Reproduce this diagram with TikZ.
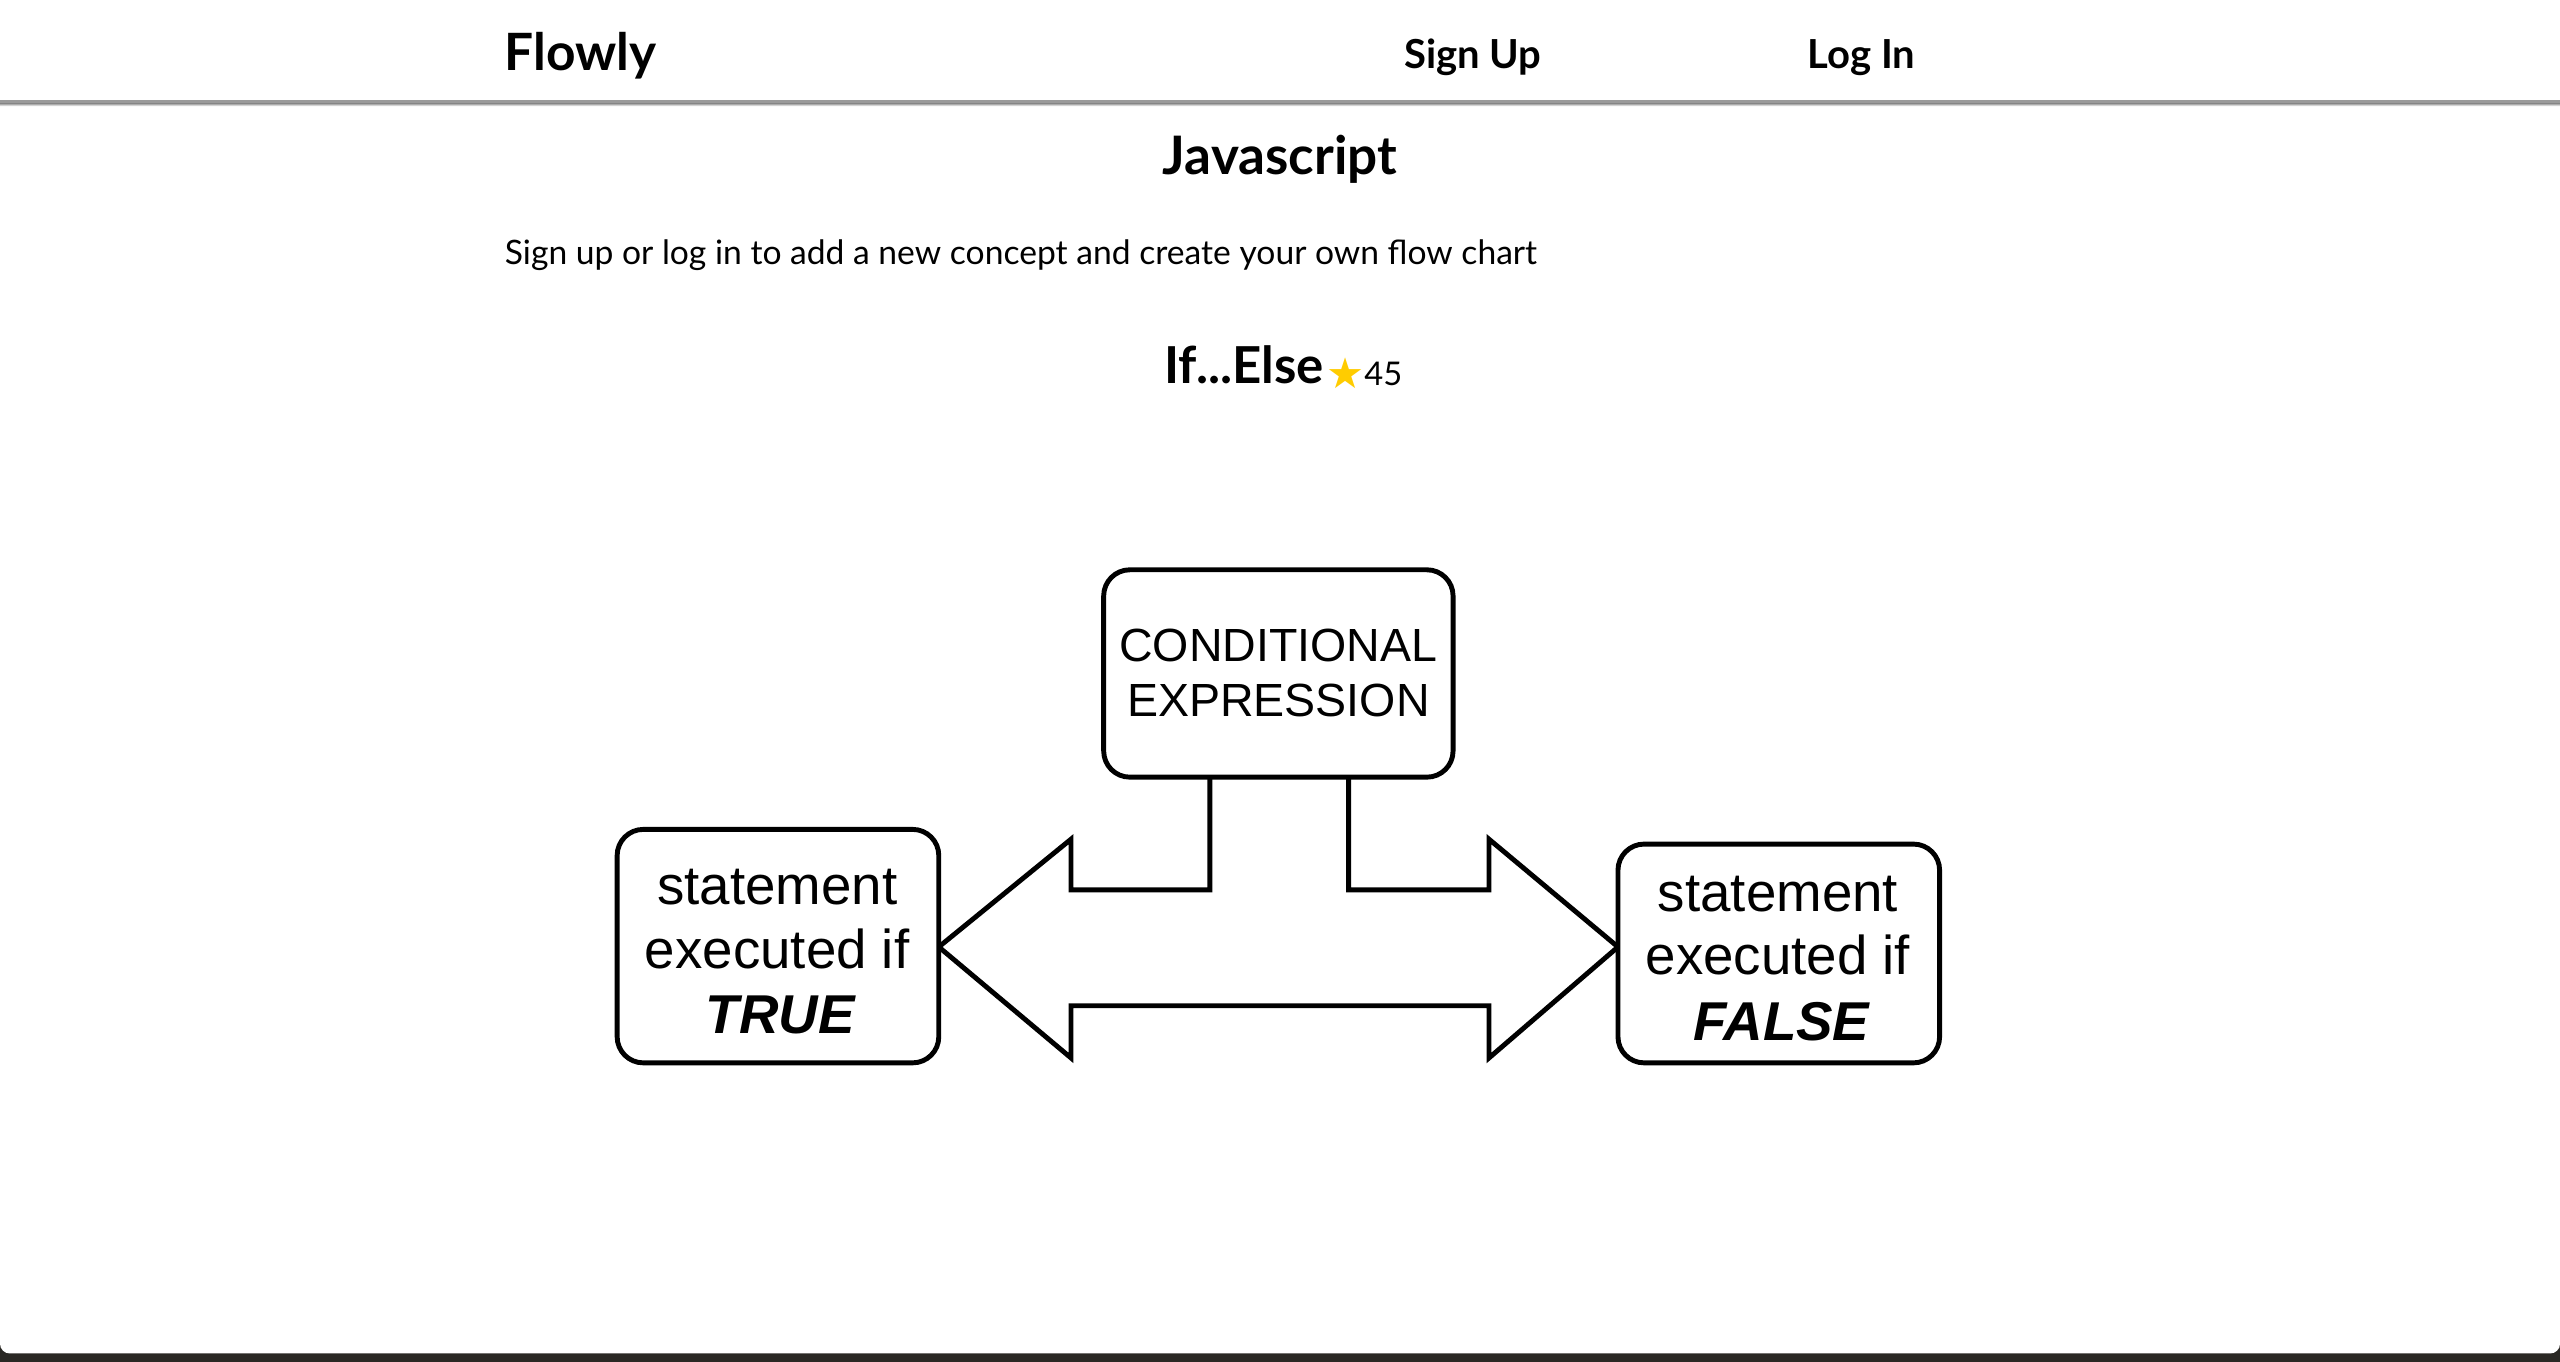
\documentclass[tikz,border=0pt]{standalone}
\usepackage{fontspec}
\setmainfont{Lato}
\newfontfamily\diafont{Liberation Sans}
\newfontfamily\symfont{DejaVu Sans}
\definecolor{gold}{HTML}{FFCC00}
\definecolor{hdrline}{HTML}{9A9A9A}
\definecolor{shade}{HTML}{EDEDED}
\definecolor{bgdark}{HTML}{2A2824}
\tikzset{
  webtxt/.style={inner sep=0pt, text=black},
  dbox/.style={draw=black, line width=3pt, rounded corners=16pt, fill=white},
  dtxt/.style={inner sep=0pt, anchor=base, font=\diafont\fontsize{33.5}{39}\selectfont},
  ctxt/.style={inner sep=0pt, anchor=base, font=\diafont\fontsize{28.5}{34}\selectfont},
  arrowline/.style={draw=black, line width=3pt, line join=miter, fill=white}
}
\begin{document}
\begin{tikzpicture}[x=1pt,y=-1pt]
\useasboundingbox (0,0) rectangle (1568,834);
% background
\fill[bgdark] (0,0) rectangle (1568,834);
\fill[white, rounded corners=6pt] (0,-20) rectangle (1568,829);
% header
\fill[white] (0,0) rectangle (1568,61);
\fill[shade] (0,63) rectangle (1568,65);
\draw[hdrline, line width=2pt] (0,62) -- (1568,62);
\node[webtxt, anchor=base west, font=\bfseries\fontsize{31.5}{36}\selectfont] (logo) at (309,43) {Flowly};
\node[webtxt, anchor=base west, font=\bfseries\fontsize{24.5}{28}\selectfont] (signup) at (860,42) {Sign Up};
\node[webtxt, anchor=base west, font=\bfseries\fontsize{24.5}{28}\selectfont] (login) at (1107,42) {Log In};
% page titles
\node[webtxt, anchor=base, font=\bfseries\fontsize{32.5}{36}\selectfont] (title) at (784,107) {Javascript};
\node[webtxt, anchor=base west, font=\fontsize{20.6}{24}\selectfont] (intro) at (309,162) {Sign up or log in to add a new concept and create your own flow chart};
\node[webtxt, anchor=base west, font=\bfseries\fontsize{31.2}{34}\selectfont] (ifelse) at (713,235) {If...Else};
\node[webtxt, anchor=base west, text=gold, font=\symfont\fontsize{26}{30}\selectfont] (star) at (812,238) {★};
\node[webtxt, anchor=base west, font=\fontsize{20}{24}\selectfont] (count) at (835.5,236) {45};
% diagram: double arrow
\draw[arrowline] (741,476) -- (741,545) -- (656,545) -- (656,514) -- (575,580) -- (656,648) -- (656,616)
  -- (912,616) -- (912,648) -- (991,580) -- (912,514) -- (912,545) -- (826,545) -- (826,476);
% boxes
\draw[dbox] (676,349) rectangle (890,476);
\node[ctxt] (c1) at (783,405) {CONDITIONAL};
\node[ctxt] (c2) at (783,439) {EXPRESSION};
\draw[dbox] (378,508) rectangle (575,651);
\node[dtxt] (t1) at (476,554) {statement};
\node[dtxt] (t2) at (476,593) {executed if};
\node[dtxt] (t3) at (478,633) {\bfseries\itshape TRUE};
\draw[dbox] (991,517) rectangle (1188,651);
\node[dtxt] (f1) at (1089,558) {statement};
\node[dtxt] (f2) at (1089,597) {executed if};
\node[dtxt] (f3) at (1091,637) {\bfseries\itshape FALSE};
\end{tikzpicture}
\end{document}
